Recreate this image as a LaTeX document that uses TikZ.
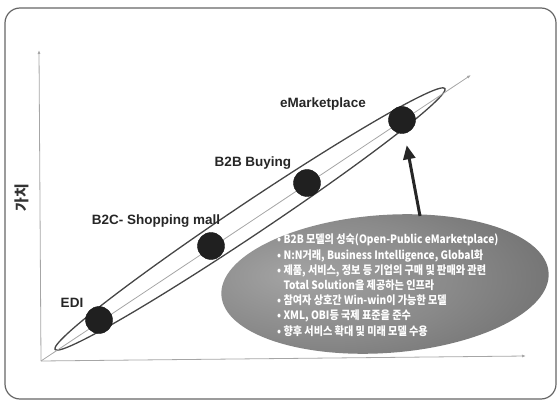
\documentclass[tikz,border=0pt]{standalone}
\usepackage{fontspec}
\setsansfont{Liberation Sans}
\newfontfamily\kr{Noto Sans CJK KR}
\newfontfamily\krnarrow[FakeStretch=0.88]{Noto Sans CJK KR}
\usetikzlibrary{arrows.meta,shapes.geometric}

\pgfdeclareradialshading{calloutshade}{\pgfpoint{-14bp}{3bp}}{%
  color(0bp)=(gray!72); color(20bp)=(gray!92); color(38bp)=(gray!85!black);
  color(50bp)=(gray!65!black); color(70bp)=(gray!65!black)}

\tikzset{
  frame/.style={draw=gray!80!black, line width=1.2pt, rounded corners=15pt},
  axis/.style={draw=gray!70, line width=0.8pt, -{Latex[length=4pt,width=3pt]}},
  lens/.style={draw=gray!55!black, line width=1.3pt},
  ball/.style={circle, fill=gray!25!black, draw=gray!15!black, minimum size=27pt, inner sep=0pt},
  stage/.style={font=\sffamily\bfseries\fontsize{13.5}{16}\selectfont, text=black!85},
  callout/.style={ellipse, minimum width=328pt, minimum height=138pt, shading=calloutshade},
  infotext/.style={font=\krnarrow\bfseries\fontsize{11.5}{15.2}\selectfont, text=white, align=left, inner sep=0pt, anchor=north west},
  pointer/.style={draw=gray!30!black, line width=3pt, -{Triangle[width=12pt,length=14pt]}}
}

\begin{document}
\begin{tikzpicture}[x=1pt,y=-1pt]
  \useasboundingbox (0,0) rectangle (560,401);
  \draw[frame] (5,8) rectangle (556,399);
  % axes
  \coordinate (o) at (41,361);
  \coordinate (ytop) at (39,50);
  \coordinate (xend) at (526,356);
  \coordinate (dend) at (471,75);
  \draw[axis] (o) -- (ytop);
  \draw[axis] (o) -- (xend);
  \node[rotate=90, font=\kr\bfseries\fontsize{15}{17}\selectfont, text=black!80] (value) at (22,198) {가치};
  % lens and stages
  \draw[lens, rotate around={33.8:(250,219)}] (250,219) ellipse [x radius=234.6pt, y radius=16pt];
  \draw[axis] (o) -- (dend);
  \node[ball] (edi) at (99,320) {};
  \node[ball] (mall) at (211,246) {};
  \node[ball] (buying) at (307,183) {};
  \node[ball] (emkt) at (402,120) {};
  \node[stage] (edilbl) at (72,303) {EDI};
  \node[stage] (malllbl) at (156,221) {B2C- Shopping mall};
  \node[stage] (buyinglbl) at (253,163) {B2B Buying};
  \node[stage] (emktlbl) at (323,104) {eMarketplace};
  % callout
  \node[callout, rotate=4] (info) at (385,284) {};
  \node[infotext] (infotxt) at (277,234) {• B2B 모델의 성숙(Open-Public eMarketplace)\\
    • N:N거래, Business Intelligence, Global화\\
    • 제품, 서비스, 정보 등 기업의 구매 및 판매와 관련\\
    \phantom{• }Total Solution을 제공하는 인프라\\
    • 참여자 상호간 Win-win이 가능한 모델\\
    • XML, OBI등 국제 표준을 준수\\
    • 향후 서비스 확대 및 미래 모델 수용};
  \coordinate (foot) at (420,216);
  \draw[pointer, shorten >=12pt] (foot) -- (emkt);
\end{tikzpicture}
\end{document}
